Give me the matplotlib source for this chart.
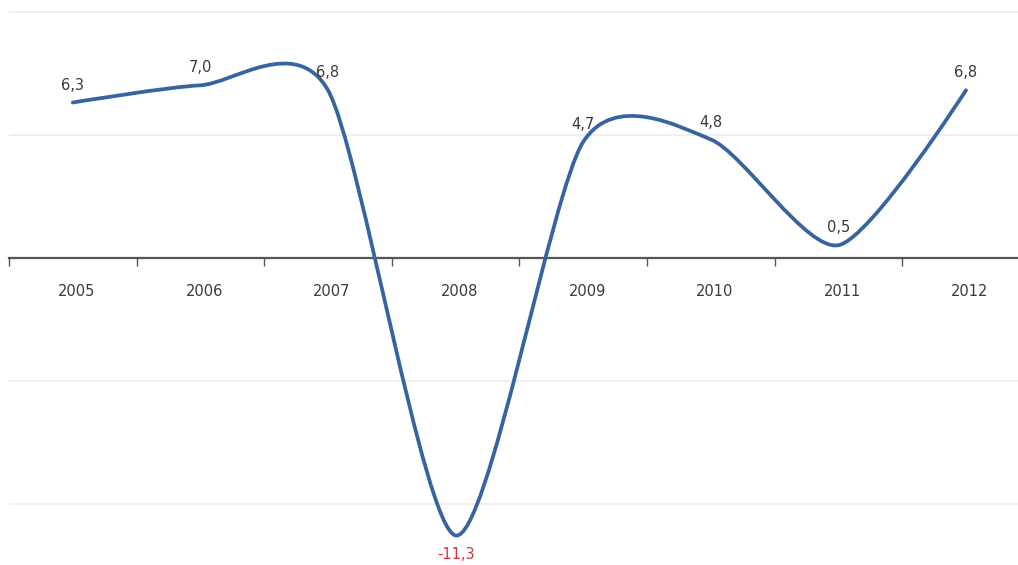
import numpy as np
import matplotlib
matplotlib.use("Agg")
import matplotlib.pyplot as plt
from matplotlib.path import Path
from matplotlib.patches import PathPatch
from matplotlib.transforms import ScaledTranslation

years = ["2005", "2006", "2007", "2008", "2009", "2010", "2011", "2012"]
growth = [6.3, 7.0, 6.8, -11.3, 4.7, 4.8, 0.5, 6.8]
value_labels = ["6,3", "7,0", "6,8", "-11,3", "4,7", "4,8", "0,5", "6,8"]
grid_values = [-10, -5, 5, 10]

LINE_COLOR = "#36649f"
TEXT_COLOR = "#3a3a3a"
NEG_COLOR = "#d8343c"


def spline_path(xs, ys, tension=0.125):
    """Cardinal-style cubic Bezier spline through the points."""
    n = len(xs)
    pts = np.column_stack([xs, ys]).astype(float)
    tang = np.zeros_like(pts)
    for i in range(1, n - 1):
        tang[i] = (pts[i + 1] - pts[i - 1]) * tension
    verts = [tuple(pts[0])]
    codes = [Path.MOVETO]
    for i in range(1, n):
        c1 = pts[i - 1] + tang[i - 1]
        c2 = pts[i] - tang[i]
        verts += [tuple(c1), tuple(c2), tuple(pts[i])]
        codes += [Path.CURVE4] * 3
    return Path(verts, codes)


fig = plt.figure(figsize=(10.18, 5.65), dpi=100)
W, H = 1018, 565
PX_PER_UNIT = 24.6
ZERO_PX = 257.5
TOP_PX = 6
LEFT_PX = 9
STEP_PX = 127.6
ax = fig.add_axes([LEFT_PX / W, 0, 1 - LEFT_PX / W, 1 - TOP_PX / H])

x = np.arange(len(years))

for g in grid_values:
    ax.axhline(g, color="#eeeeee", lw=1.3, zorder=0)

patch = PathPatch(spline_path(list(x), growth), facecolor="none",
                  edgecolor=LINE_COLOR, lw=2.7, capstyle="round",
                  joinstyle="round", zorder=3)
ax.add_patch(patch)

for xi, v, lab in zip(x, growth, value_labels):
    if v < 0:
        ax.annotate(lab, (xi, v), xytext=(0, -14), textcoords="offset points",
                    ha="center", va="center", fontsize=10.5, color=NEG_COLOR,
                    annotation_clip=False)
    else:
        ax.annotate(lab, (xi, v), xytext=(0, 12.5), textcoords="offset points",
                    ha="center", va="center", fontsize=10.5, color=TEXT_COLOR,
                    annotation_clip=False)

for s in ["top", "right", "left"]:
    ax.spines[s].set_visible(False)
ax.spines["bottom"].set_position(("data", 0))
ax.spines["bottom"].set_color("#555555")
ax.spines["bottom"].set_linewidth(1.6)
ax.spines["bottom"].set_zorder(2)

ax.set_yticks([])
ax.set_xticks(x)
ax.set_xticklabels(years, fontsize=10.5, color=TEXT_COLOR)
ax.set_xticks(np.arange(-0.5, len(years) - 1, 1.0), minor=True)
ax.tick_params(axis="x", which="major", length=0, pad=19)
ax.tick_params(axis="x", which="minor", length=6, width=1, color="#555555")
shift = ScaledTranslation(4 / 100, 0, fig.dpi_scale_trans)
for t in ax.get_xticklabels():
    t.set_transform(t.get_transform() + shift)

ax.set_xlim(-0.5, -0.5 + (W - LEFT_PX) / STEP_PX)
ax.set_ylim(-(H - ZERO_PX) / PX_PER_UNIT, (ZERO_PX - TOP_PX) / PX_PER_UNIT)
ax.patch.set_alpha(0)

fig.savefig("out.png", dpi=100)
